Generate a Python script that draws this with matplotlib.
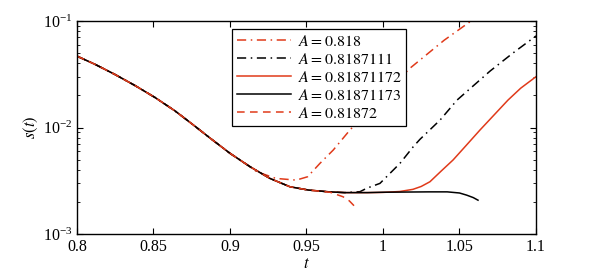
import numpy as np
import matplotlib
matplotlib.use("Agg")
import matplotlib.pyplot as plt

plt.rcParams['font.family'] = ['Liberation Serif', 'DejaVu Serif']
plt.rcParams['mathtext.fontset'] = 'stix'

# common early part of all curves
t_main = [0.800, 0.8118, 0.8248, 0.8379, 0.851, 0.8641, 0.876, 0.8869, 0.900, 0.9131]
s_main = [0.0468, 0.0392, 0.0315, 0.0248, 0.01914, 0.01432, 0.01059, 0.00798, 0.00573, 0.00429]

# shared continuation (for curves that stay on the plateau)
t_cont = [0.9261, 0.9392, 0.9512, 0.965, 0.975]
s_cont = [0.00333, 0.00278, 0.00259, 0.00249, 0.00245]

# A = 0.818 (red dash-dot) tail after t=0.9131
t_a1 = [0.9175, 0.930, 0.9433, 0.9507, 0.9588, 0.9675, 0.9784, 0.995, 1.0176, 1.040, 1.0569, 1.060]
s_a1 = [0.00385, 0.00333, 0.00321, 0.00345, 0.00461, 0.00615, 0.00948, 0.0168, 0.0360, 0.066, 0.0985, 0.106]

# A = 0.8187111 (black dash-dot) tail after t=0.975
t_a2 = [0.985, 0.9893, 0.998, 1.0111, 1.0198, 1.0242, 1.0373, 1.0484, 1.070, 1.085, 1.100]
s_a2 = [0.00250, 0.00269, 0.00299, 0.00461, 0.00661, 0.00776, 0.01175, 0.0181, 0.0339, 0.0501, 0.0724]

# A = 0.81871172 (red solid) tail after t=0.975
t_a3 = [0.990, 1.000, 1.011, 1.0196, 1.025, 1.0307, 1.038, 1.0458, 1.054, 1.0634, 1.0817, 1.090, 1.100]
s_a3 = [0.00245, 0.00246, 0.00251, 0.00263, 0.00280, 0.00310, 0.0039, 0.00496, 0.0067, 0.00948, 0.0181, 0.0234, 0.0300]

# A = 0.81871173 (black solid) tail after t=0.975
t_a4 = [0.990, 1.000, 1.015, 1.030, 1.042, 1.050, 1.0547, 1.059, 1.0621]
s_a4 = [0.00245, 0.00247, 0.00248, 0.00249, 0.00249, 0.00243, 0.00232, 0.00220, 0.00208]

# A = 0.81872 (red dashed) tail after t=0.9512
t_a5 = [0.9654, 0.9739, 0.978, 0.9828]
s_a5 = [0.00247, 0.00224, 0.00205, 0.00174]

labels = [r'$A = 0.818$', r'$A = 0.8187111$', r'$A = 0.81871172$',
          r'$A = 0.81871173$', r'$A = 0.81872$']

red = '#e03a1a'

fig = plt.figure(figsize=(5.92, 2.78), dpi=100)
ax = fig.add_axes([0.130, 0.158, 0.7754, 0.7665])

def series(prefix_t, prefix_s, tail_t, tail_s):
    return np.array(prefix_t + tail_t), np.array(prefix_s + tail_s)

lw = 1.1
x1, y1 = series(t_main, s_main, t_a1, s_a1)
x2, y2 = series(t_main + t_cont, s_main + s_cont, t_a2, s_a2)
x3, y3 = series(t_main + t_cont, s_main + s_cont, t_a3, s_a3)
x4, y4 = series(t_main + t_cont, s_main + s_cont, t_a4, s_a4)
x5, y5 = series(t_main + t_cont[:3], s_main + s_cont[:3], t_a5, s_a5)

ax.plot(x1, y1, color=red, lw=lw, dashes=(6, 3, 1, 3), label=labels[0])
ax.plot(x2, y2, color='black', lw=lw, dashes=(6, 3, 1, 3), label=labels[1])
ax.plot(x3, y3, color=red, lw=lw, label=labels[2])
ax.plot(x4, y4, color='black', lw=lw, label=labels[3])
ax.plot(x5, y5, color=red, lw=lw, dashes=(5, 3.5), label=labels[4])

ax.set_yscale('log')
ax.set_xlim(0.8, 1.1)
ax.set_ylim(1e-3, 1e-1)
ax.set_xticks([0.8, 0.85, 0.9, 0.95, 1.0, 1.05, 1.1])
ax.set_xticklabels(['0.8', '0.85', '0.9', '0.95', '1', '1.05', '1.1'])
ax.tick_params(which='both', direction='in', top=True, right=True, labelsize=11.5)
ax.tick_params(which='major', length=4, width=0.8)
ax.tick_params(which='minor', length=2.2, width=0.6)
for sp in ax.spines.values():
    sp.set_linewidth(1.0)

ax.set_xlabel(r'$t$', fontsize=12, labelpad=1)
ax.set_ylabel(r'$s(t)$', fontsize=12, labelpad=2)

leg = ax.legend(loc='upper left', bbox_to_anchor=(0.338, 0.962), fontsize=11.5,
                frameon=True, fancybox=False, edgecolor='black', framealpha=1,
                handlelength=3.4, handletextpad=0.4, labelspacing=0.12,
                borderpad=0.3, borderaxespad=0)
leg.get_frame().set_linewidth(0.9)

fig.savefig('out.png', dpi=100)
